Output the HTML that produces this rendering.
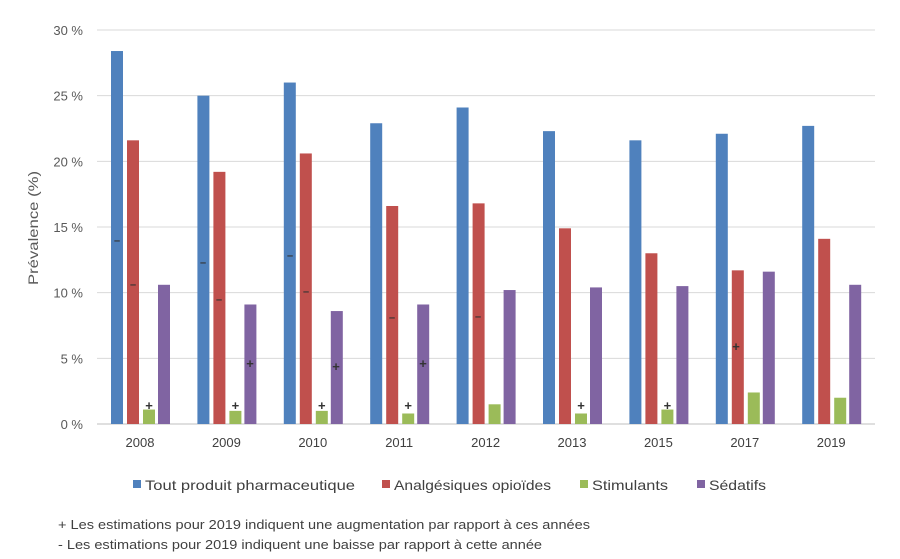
<!DOCTYPE html>
<html><head><meta charset="utf-8"><style>
body{margin:0;background:#fff;width:900px;height:554px;overflow:hidden;font-family:"Liberation Sans",sans-serif}
</style></head><body>
<svg id="s" width="900" height="554" xmlns="http://www.w3.org/2000/svg" font-family="Liberation Sans, sans-serif"></svg>
<script>
const s=document.getElementById('s');let h='';
const y0=424,k=13.133;
for(let i=0;i<=6;i++){const y=y0-i*5*k;h+=`<line x1="97" x2="875" y1="${y}" y2="${y}" stroke="${i?'#d9d9d9':'#bfbfbf'}" stroke-width="1"/>`;
h+=`<text x="83" y="${y+5}" font-size="13" fill="#595959" text-anchor="end">${i*5} %</text>`;}
const yrs=['2008','2009','2010','2011','2012','2013','2015','2017','2019'];
const d=[[28.4,21.6,1.1,10.6],[25.0,19.2,1.0,9.1],[26.0,20.6,1.0,8.6],[22.9,16.6,0.8,9.1],[24.1,16.8,1.5,10.2],[22.3,14.9,0.8,10.4],[21.6,13.0,1.1,10.5],[22.1,11.7,2.4,11.6],[22.7,14.1,2.0,10.6]];
const col=['#4f81bd','#c0504d','#9bbb59','#8064a2'],off=[-29,-13,3,18];
yrs.forEach((yr,g)=>{const c=140+g*86.4;
d[g].forEach((v,j)=>{const hh=v*k;h+=`<rect x="${c+off[j]}" y="${y0-hh}" width="12" height="${hh}" fill="${col[j]}"/>`;});
h+=`<text x="${c}" y="447" font-size="13" fill="#404040" text-anchor="middle">${yr}</text>`;});
const mk=(x,y,t)=>{h+=`<text x="${x}" y="${y+4}" font-size="${t=='+'?13:11}" font-weight="bold" fill="#333" text-anchor="middle">${t=='-'?'–':'+'}</text>`;};
[[117,240],[203,262],[290,255]].forEach(p=>mk(p[0],p[1],'-'));
[[133,284],[219,299],[306,291],[392,317],[478,316]].forEach(p=>mk(p[0],p[1],'-'));
[0,1,2,3,5,6].forEach(g=>mk(140+g*86.4+9,406,'+'));
[[250,364],[336,367],[423,364],[736,347]].forEach(p=>mk(p[0],p[1],'+'));
h+=`<text transform="translate(38,228) rotate(-90)" font-size="14" fill="#595959" text-anchor="middle" textLength="114" lengthAdjust="spacingAndGlyphs">Prévalence (%)</text>`;
const lg=[['Tout produit pharmaceutique',133,210],['Analgésiques opioïdes',382,157],['Stimulants',580,76],['Sédatifs',697,57]];
lg.forEach((l,i)=>{h+=`<rect x="${l[1]}" y="480" width="8" height="8" fill="${col[i]}"/><text x="${l[1]+12}" y="490" font-size="14" fill="#404040" textLength="${l[2]}" lengthAdjust="spacingAndGlyphs">${l[0]}</text>`;});
h+=`<text x="58" y="529" font-size="13" fill="#404040" textLength="532" lengthAdjust="spacingAndGlyphs">+ Les estimations pour 2019 indiquent une augmentation par rapport à ces années</text>`;
h+=`<text x="58" y="549" font-size="13" fill="#404040" textLength="484" lengthAdjust="spacingAndGlyphs">- Les estimations pour 2019 indiquent une baisse par rapport à cette année</text>`;
s.innerHTML=h;
</script>
</body></html>
